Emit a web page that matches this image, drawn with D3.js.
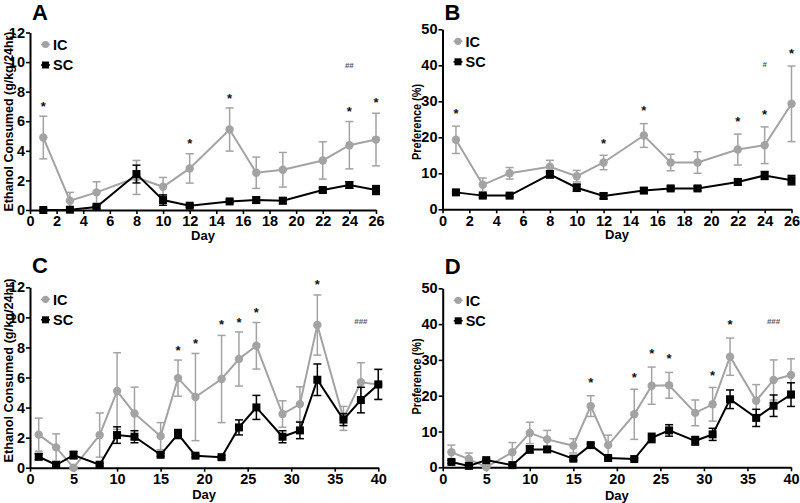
<!DOCTYPE html>
<html>
<head>
<meta charset="utf-8">
<script src="https://cdn.jsdelivr.net/npm/d3@7"></script>
<style>
  body { margin: 0; background: #fff; }
  text { font-family: Arial, "Liberation Sans", sans-serif; font-weight: bold; }
</style>
</head>
<body>
<script>
// ---- data ----
const daysAB = [1, 3, 5, 8, 10, 12, 15, 17, 19, 22, 24, 26];
const daysCD = [1, 3, 5, 8, 10, 12, 15, 17, 19, 22, 24, 26, 29, 31, 33, 36, 38, 40];

// A: ethanol consumed, 26 days
const icA = [4.9, 0.63, 1.19, 2.2, 1.57, 2.81, 5.44, 2.52, 2.72, 3.35, 4.38, 4.76];
const icASem = [1.44, 0.56, 0.72, 1.15, 0.63, 0.99, 1.46, 1.06, 1.17, 1.26, 1.6, 1.78];
const scA = [0.0, 0.02, 0.2, 2.43, 0.67, 0.29, 0.58, 0.67, 0.63, 1.35, 1.69, 1.35];
const scASem = [0.05, 0.05, 0.08, 0.6, 0.35, 0.1, 0.1, 0.2, 0.2, 0.15, 0.22, 0.3];

// B: preference, 26 days
const icB = [19.3, 6.8, 10, 11.8, 9.2, 13, 20.5, 13, 13, 16.6, 17.8, 29.3];
const icBSem = [3.8, 1.9, 1.6, 1.8, 1.6, 2, 3.3, 2.3, 3, 4.3, 5.1, 10.5];
const scB = [4.7, 3.8, 3.8, 9.7, 6.0, 3.7, 5.2, 5.8, 5.8, 7.6, 9.4, 8.1];
const scBSem = [0.4, 0.5, 0.4, 1.0, 1.0, 0.8, 0.7, 0.5, 0.6, 0.8, 1.1, 1.3];

// C: ethanol consumed, 40 days
const icC = [2.2, 1.35, 0.0, 2.17, 5.1, 3.61, 2.1, 5.96, 4.7, 5.9, 7.23, 8.11, 3.57, 4.23, 9.49, 3.28, 5.68, 5.54];
const icCSem = [1.1, 0.9, 0.05, 1.47, 2.55, 1.75, 0.9, 1.2, 2.9, 2.9, 1.8, 1.55, 0.88, 1.15, 2.0, 0.8, 1.3, 1.0];
const scC = [0.73, 0.18, 0.84, 0.2, 2.17, 2.06, 0.86, 2.24, 0.8, 0.7, 2.68, 4.01, 2.06, 2.48, 5.85, 3.2, 4.5, 5.54];
const scCSem = [0.2, 0.08, 0.25, 0.08, 0.55, 0.4, 0.1, 0.3, 0.1, 0.1, 0.5, 0.8, 0.4, 0.55, 1.05, 0.4, 0.85, 1.0];

// D: preference, 40 days
const icD = [4.2, 2.3, 0.05, 4.2, 9.6, 7.8, 6.0, 17.1, 6.2, 14.8, 22.8, 22.9, 15.2, 17.6, 30.9, 18.6, 24.4, 25.8];
const icDSem = [2.0, 1.7, 0.1, 2.7, 3.0, 2.5, 2.0, 2.9, 2.8, 7.0, 5.2, 3.6, 3.6, 4.7, 5.2, 4.5, 5.6, 4.5];
const scD = [1.5, 0.4, 2.0, 0.6, 5.0, 5.0, 2.4, 6.2, 2.6, 2.3, 8.2, 10.3, 7.4, 9.2, 19.0, 13.8, 17.2, 20.3];
const scDSem = [0.4, 0.2, 0.3, 0.2, 1.0, 0.7, 0.4, 0.4, 0.3, 0.3, 1.3, 1.6, 1.2, 1.7, 2.6, 2.4, 3.0, 3.3];

// significance marks: day, height (data units), label
const annADays = [1, 12, 15, 24, 24, 26];
const annAValues = [7.19, 4.67, 7.75, 6.87, 9.8, 7.43];
const annALabels = ["*", "*", "*", "*", "##", "*"];
const annBDays = [1, 12, 15, 22, 24, 24, 26];
const annBValues = [27.3, 19.1, 28.1, 25.2, 27.1, 40.3, 44];
const annBLabels = ["*", "*", "*", "*", "*", "#", "*"];
const annCDays = [17, 19, 22, 24, 26, 33, 38];
const annCValues = [8.0, 8.47, 9.67, 9.84, 10.47, 12.37, 9.76];
const annCLabels = ["*", "*", "*", "*", "*", "*", "###"];
const annDDays = [17, 22, 24, 26, 31, 33, 38];
const annDValues = [24.4, 25.9, 32.6, 31.1, 26.4, 40.7, 40.7];
const annDLabels = ["*", "*", "*", "*", "*", "*", "###"];

const xTicksAB = d3.range(0, 27, 2);
const xTicksCD = d3.range(0, 41, 5);
const yTicksCons = d3.range(0, 13, 2);
const yTicksPref = d3.range(0, 51, 10);

const grey = "#a3a3a3";

const svg = d3.select("body").append("svg")
    .attr("width", 800)
    .attr("height", 503);

function drawPanel(p) {
    const x = d3.scaleLinear().domain([0, p.xMax]).range([p.left, p.right]);
    const y = d3.scaleLinear().domain([0, p.yMax]).range([p.bottom, p.top]);
    const g = svg.append("g");

    const yAxis = d3.axisLeft(y).tickValues(p.yTicks).tickSize(4).tickPadding(1).tickSizeOuter(0);
    const xAxis = d3.axisBottom(x).tickValues(p.xTicks).tickSize(4).tickPadding(2).tickSizeOuter(0);

    const ya = g.append("g").attr("transform", `translate(${p.left},0)`).call(yAxis);
    const xa = g.append("g").attr("transform", `translate(0,${p.bottom})`).call(xAxis);
    [ya, xa].forEach(a => {
        a.select(".domain").attr("stroke", "#000").attr("stroke-width", 2);
        a.selectAll(".tick line").attr("stroke", "#000").attr("stroke-width", 1.6);
        a.selectAll(".tick text").attr("fill", "#000")
            .style("font-size", "14.5px").style("font-family", "Arial, 'Liberation Sans', sans-serif")
            .style("font-weight", "bold");
    });

    // titles
    g.append("text").attr("x", p.left + 2).attr("y", p.letterY)
        .style("font-size", "22px").text(p.letter);
    g.append("text")
        .attr("transform", `translate(${p.yTitleX},${p.yTitleY}) rotate(-90)`)
        .attr("text-anchor", "middle").attr("dy", "0.35em")
        .attr("textLength", p.yTitleLen).attr("lengthAdjust", "spacingAndGlyphs")
        .style("font-size", "13px").text(p.yTitle);
    g.append("text").attr("x", (p.left + p.right) / 2).attr("y", p.dayY)
        .attr("text-anchor", "middle").style("font-size", "13px").text("Day");

    // series: IC (grey circles) then SC (black squares)
    const series = [
        {vals: p.ic, sem: p.icSem, color: grey, shape: "circle"},
        {vals: p.sc, sem: p.scSem, color: "#000", shape: "square"}
    ];
    series.forEach(s => {
        const pts = p.days.map((d, i) => ({d, v: s.vals[i], e: s.sem[i]}));
        const eb = g.append("g").attr("stroke", s.color).attr("stroke-width", 1.5);
        pts.forEach(pt => {
            eb.append("line").attr("x1", x(pt.d)).attr("x2", x(pt.d))
                .attr("y1", y(pt.v - pt.e)).attr("y2", y(pt.v + pt.e));
            [pt.v - pt.e, pt.v + pt.e].forEach(c => {
                eb.append("line").attr("x1", x(pt.d) - 4).attr("x2", x(pt.d) + 4)
                    .attr("y1", y(c)).attr("y2", y(c));
            });
        });
        g.append("path").datum(pts)
            .attr("fill", "none").attr("stroke", s.color).attr("stroke-width", 2)
            .attr("d", d3.line().x(q => x(q.d)).y(q => y(q.v)));
        if (s.shape === "circle") {
            g.selectAll(null).data(pts).enter().append("circle")
                .attr("cx", q => x(q.d)).attr("cy", q => y(q.v)).attr("r", 4.2)
                .attr("fill", s.color);
        } else {
            g.selectAll(null).data(pts).enter().append("rect")
                .attr("x", q => x(q.d) - 4).attr("y", q => y(q.v) - 4)
                .attr("width", 8).attr("height", 8).attr("fill", s.color);
        }
    });

    // legend
    const legend = [{name: "IC", color: grey, shape: "circle"}, {name: "SC", color: "#000", shape: "square"}];
    legend.forEach((l, i) => {
        const ly = p.top + 12 + i * 20.5;
        const lx = p.left + 15.5;
        g.append("line").attr("x1", lx - 4.5).attr("x2", lx + 4.5).attr("y1", ly).attr("y2", ly)
            .attr("stroke", l.color).attr("stroke-width", 1.5);
        if (l.shape === "circle") {
            g.append("circle").attr("cx", lx).attr("cy", ly).attr("r", 3.6).attr("fill", l.color);
        } else {
            g.append("rect").attr("x", lx - 3.5).attr("y", ly - 3.5).attr("width", 7).attr("height", 7)
                .attr("fill", l.color);
        }
        g.append("text").attr("x", lx + 7.5).attr("y", ly).attr("dy", "0.36em")
            .style("font-size", "14.5px").text(l.name);
    });

    // significance marks
    p.annDays.forEach((d, i) => {
        const lab = p.annLabels[i];
        const star = lab === "*";
        g.append("text").attr("x", x(d)).attr("y", y(p.annValues[i]))
            .attr("text-anchor", "middle")
            .attr("dy", star ? "0.55em" : "0.36em")
            .attr("fill", star ? "#111" : "#555")
            .style("font-size", star ? "13px" : "8px")
            .text(lab);
    });
}

drawPanel({letter: "A", letterY: 20, left: 30, right: 376, top: 32.5, bottom: 210,
    xMax: 26, yMax: 12, xTicks: xTicksAB, yTicks: yTicksCons, days: daysAB,
    ic: icA, icSem: icASem, sc: scA, scSem: scASem,
    yTitle: "Ethanol Consumed (g/kg/24hr)", yTitleX: 8, yTitleY: 121.5, yTitleLen: 180, dayY: 240,
    annDays: annADays, annValues: annAValues, annLabels: annALabels});

drawPanel({letter: "B", letterY: 20, left: 442.5, right: 791.5, top: 29.3, bottom: 209.3,
    xMax: 26, yMax: 50, xTicks: xTicksAB, yTicks: yTicksPref, days: daysAB,
    ic: icB, icSem: icBSem, sc: scB, scSem: scBSem,
    yTitle: "Preference (%)", yTitleX: 416.5, yTitleY: 122, yTitleLen: 76, dayY: 239,
    annDays: annBDays, annValues: annBValues, annLabels: annBLabels});

drawPanel({letter: "C", letterY: 273, left: 30, right: 378.3, top: 287.3, bottom: 467.7,
    xMax: 40, yMax: 12, xTicks: xTicksCD, yTicks: yTicksCons, days: daysCD,
    ic: icC, icSem: icCSem, sc: scC, scSem: scCSem,
    yTitle: "Ethanol Consumed (g/kg/24hr)", yTitleX: 8, yTitleY: 370.5, yTitleLen: 184, dayY: 499,
    annDays: annCDays, annValues: annCValues, annLabels: annCLabels});

drawPanel({letter: "D", letterY: 274, left: 442.7, right: 791, top: 288.3, bottom: 467.3,
    xMax: 40, yMax: 50, xTicks: xTicksCD, yTicks: yTicksPref, days: daysCD,
    ic: icD, icSem: icDSem, sc: scD, scSem: scDSem,
    yTitle: "Preference (%)", yTitleX: 416.5, yTitleY: 376.5, yTitleLen: 76, dayY: 500,
    annDays: annDDays, annValues: annDValues, annLabels: annDLabels});
</script>
</body>
</html>
